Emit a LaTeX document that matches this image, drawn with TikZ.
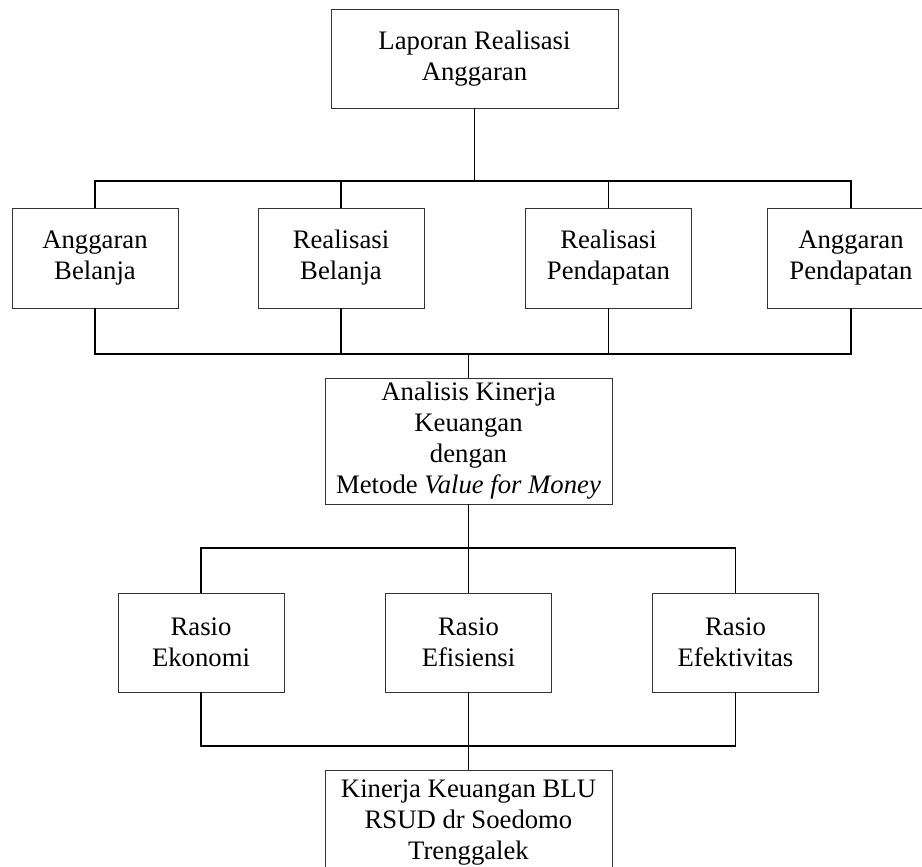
\documentclass[tikz,border=0pt]{standalone}
\usepackage{fontspec}
\setmainfont{Liberation Serif}
\usepackage{tikz}

\begin{document}
\begin{tikzpicture}[x=1pt, y=-1pt,
    box/.style={draw=black!80, line width=0.9pt, align=center, inner sep=0pt,
                minimum width=166pt, minimum height=100pt,
                font=\fontsize{26.7}{31}\selectfont},
    widebox/.style={box, minimum width=287pt},
    link/.style={line width=1.2pt, black}]
                            \clip (0,0) rectangle (922,867);
                            % top
                            \node[widebox, minimum height=99pt] (lra) at (474.5,58.5) {Laporan Realisasi\\Anggaran};
                            % budget row
                            \node[box] (ab) at (95,258) {Anggaran\\Belanja};
                            \node[box] (rb) at (341,258) {Realisasi\\Belanja};
                            \node[box] (rp) at (608.5,258) {Realisasi\\Pendapatan};
                            \node[box, minimum width=168pt] (ap) at (851,258) {Anggaran\\Pendapatan};
                            % analysis
                            \node[widebox, minimum height=126pt] (akk) at (468.5,441) {Analisis Kinerja\\Keuangan\\dengan\\Metode \textit{Value for Money}};
                            % ratios
                            \node[box, minimum height=99pt] (re) at (201,642.5) {Rasio\\Ekonomi};
                            \node[box, minimum height=99pt] (rf) at (468.5,642.5) {Rasio\\Efisiensi};
                            \node[box, minimum height=99pt] (rt) at (735.5,642.5) {Rasio\\Efektivitas};
                            % result
                            \node[widebox, minimum height=106pt] (kk) at (468.5,823) {Kinerja Keuangan BLU\\RSUD dr Soedomo\\Trenggalek};
                            % bus points
                            \coordinate (bus1) at (474.5,181);
                            \coordinate (bus2) at (468.5,354);
                            \coordinate (bus3) at (468.5,548);
                            \coordinate (bus4) at (468.5,746);
                            % links
                            \draw[link] (lra) -- (bus1);
                            \draw[link] (ab) |- (bus1) -| (ap);
                            \draw[link] (rb) -- (rb |- bus1);
                            \draw[link] (rp) -- (rp |- bus1);
                            \draw[link] (ab) |- (bus2) -| (ap);
                            \draw[link] (rb) -- (rb |- bus2);
                            \draw[link] (rp) -- (rp |- bus2);
                            \draw[link] (bus2) -- (akk);
                            \draw[link] (akk) -- (bus3);
                            \draw[link] (re) |- (bus3) -| (rt);
                            \draw[link] (rf) -- (bus3);
                            \draw[link] (re) |- (bus4) -| (rt);
                            \draw[link] (rf) -- (bus4);
                            \draw[link] (bus4) -- (kk);
                        \end{tikzpicture}
\end{document}
